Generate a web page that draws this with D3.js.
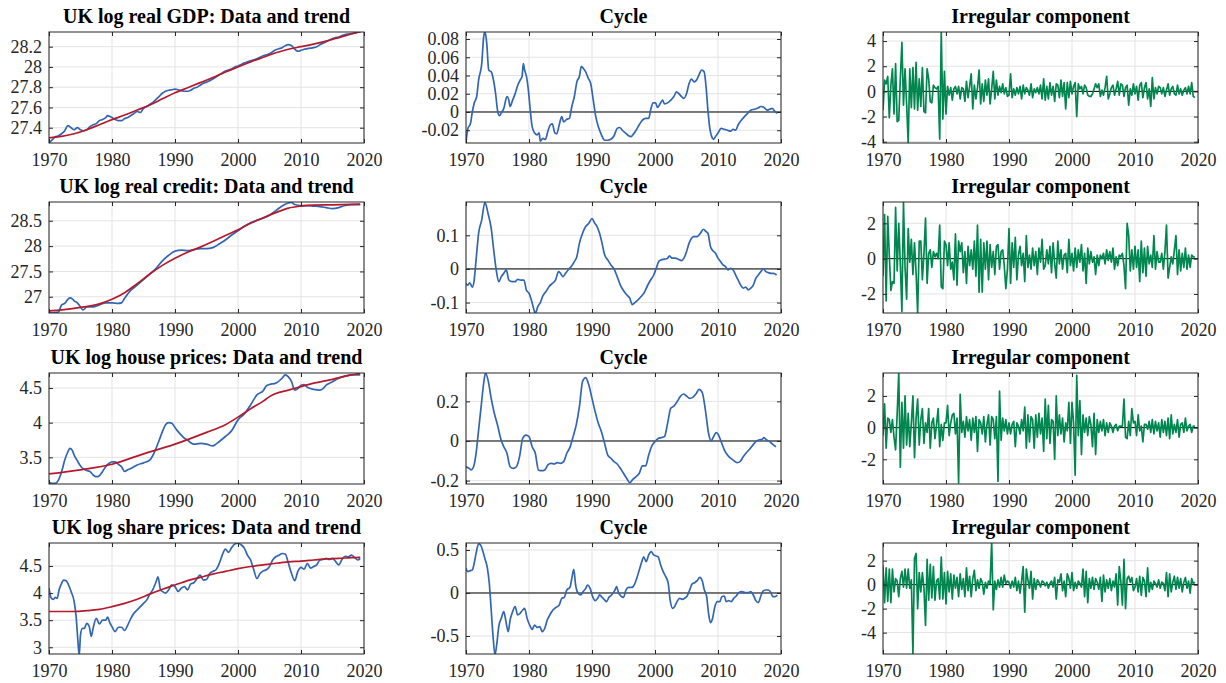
<!DOCTYPE html>
<html>
<head>
<meta charset="utf-8">
<script src="https://cdn.jsdelivr.net/npm/d3@7"></script>
<style>
  body { margin: 0; background: #fff; }
  text { font-family: "Liberation Serif", "Times New Roman", serif; fill: #262626; }
</style>
</head>
<body>
<div id="fig"></div>
<script>
// ---- data (year, value) ----

var gdpData = [[1970,27.25],[1970.5,27.28],[1971,27.31],[1971.5,27.32],[1972,27.34],[1972.5,27.37],[1973,27.42],[1973.5,27.40],[1974,27.38],[1974.5,27.40],[1975,27.38],[1975.5,27.37],[1976,27.38],[1976.5,27.41],[1977,27.43],[1977.5,27.44],[1978,27.47],[1978.5,27.48],[1979,27.50],[1979.3,27.52],[1979.7,27.51],[1980,27.50],[1980.5,27.48],[1981,27.47],[1981.5,27.47],[1982,27.49],[1982.5,27.50],[1983,27.52],[1983.5,27.54],[1984,27.56],[1984.5,27.55],[1985,27.59],[1985.5,27.61],[1986,27.63],[1986.5,27.65],[1987,27.68],[1987.5,27.71],[1988,27.74],[1988.5,27.76],[1989,27.77],[1989.5,27.775],[1990,27.78],[1990.5,27.775],[1991,27.765],[1991.5,27.76],[1992,27.76],[1992.5,27.77],[1993,27.79],[1993.5,27.80],[1994,27.82],[1994.5,27.84],[1995,27.85],[1995.5,27.865],[1996,27.88],[1996.5,27.90],[1997,27.92],[1997.5,27.94],[1998,27.96],[1998.5,27.97],[1999,27.98],[1999.5,28.0],[2000,28.01],[2000.5,28.025],[2001,28.04],[2001.5,28.05],[2002,28.06],[2002.5,28.07],[2003,28.08],[2003.5,28.095],[2004,28.11],[2004.5,28.12],[2005,28.13],[2005.5,28.15],[2006,28.17],[2006.5,28.18],[2007,28.19],[2007.5,28.21],[2008,28.22],[2008.4,28.215],[2008.8,28.19],[2009.2,28.165],[2009.6,28.155],[2010,28.165],[2010.5,28.175],[2011,28.18],[2011.5,28.185],[2012,28.19],[2012.5,28.2],[2013,28.22],[2013.5,28.235],[2014,28.25],[2014.5,28.265],[2015,28.28],[2015.5,28.29],[2016,28.295],[2016.5,28.31],[2017,28.32],[2017.5,28.325],[2018,28.33],[2018.5,28.335],[2019,28.345],[2019.5,28.35]];
var gdpTrend = [[1970,27.30],[1972,27.315],[1974,27.34],[1976,27.38],[1978,27.43],[1980,27.48],[1982,27.525],[1984,27.575],[1986,27.625],[1988,27.685],[1990,27.745],[1992,27.795],[1994,27.845],[1996,27.895],[1998,27.95],[2000,28.0],[2002,28.05],[2004,28.095],[2006,28.14],[2008,28.175],[2010,28.2],[2012,28.225],[2014,28.255],[2016,28.29],[2018,28.325],[2019.5,28.35]];
var gdpCycle = [[1970,-0.033],[1970.3,-0.018],[1970.7,-0.013],[1971,0.0],[1971.3,0.0096],[1971.7,0.017],[1972,0.035],[1972.5,0.053],[1972.8,0.082],[1973,0.088],[1973.3,0.075],[1973.6,0.046],[1974,0.044],[1974.3,0.037],[1974.7,0.020],[1975,0.002],[1975.3,-0.004],[1975.6,-0.001],[1976,0.004],[1976.5,0.017],[1976.8,0.013],[1977,0.006],[1977.4,0.013],[1977.8,0.020],[1978.2,0.029],[1978.6,0.035],[1978.9,0.039],[1979.1,0.053],[1979.3,0.046],[1979.6,0.039],[1979.9,0.024],[1980.2,0.002],[1980.5,-0.016],[1980.9,-0.023],[1981.3,-0.025],[1981.6,-0.023],[1981.8,-0.032],[1982.2,-0.029],[1982.6,-0.030],[1983,-0.021],[1983.4,-0.014],[1983.7,-0.013],[1984.1,-0.023],[1984.4,-0.024],[1984.8,-0.014],[1985.2,-0.005],[1985.5,-0.011],[1986,-0.008],[1986.4,-0.007],[1986.8,0.006],[1987.2,0.017],[1987.6,0.033],[1988,0.039],[1988.3,0.050],[1988.6,0.048],[1989,0.044],[1989.4,0.037],[1989.8,0.031],[1990.2,0.013],[1990.6,-0.005],[1991,-0.016],[1991.5,-0.025],[1992,-0.031],[1992.5,-0.031],[1993,-0.030],[1993.5,-0.026],[1994,-0.018],[1994.4,-0.017],[1994.8,-0.020],[1995.3,-0.023],[1995.8,-0.026],[1996.2,-0.027],[1996.6,-0.024],[1997,-0.020],[1997.5,-0.014],[1998,-0.009],[1998.5,-0.007],[1999,-0.007],[1999.3,0.002],[1999.7,0.010],[2000.1,0.010],[2000.4,0.005],[2000.8,0.009],[2001.2,0.013],[2001.5,0.009],[2002,0.010],[2002.5,0.013],[2003,0.017],[2003.4,0.022],[2003.8,0.020],[2004.2,0.017],[2004.6,0.015],[2005,0.020],[2005.4,0.031],[2005.8,0.036],[2006.2,0.033],[2006.6,0.035],[2007,0.041],[2007.4,0.046],[2007.8,0.044],[2008.1,0.028],[2008.4,0.002],[2008.7,-0.018],[2009,-0.027],[2009.3,-0.030],[2009.6,-0.027],[2010,-0.023],[2010.5,-0.018],[2011,-0.019],[2011.5,-0.020],[2012,-0.021],[2012.4,-0.019],[2012.8,-0.020],[2013.2,-0.014],[2013.7,-0.009],[2014.2,-0.005],[2014.7,-0.0015],[2015.2,0.002],[2015.8,0.003],[2016.3,0.004],[2016.8,0.006],[2017.3,0.005],[2017.8,0.002],[2018.2,0.003],[2018.6,0.004],[2019,0.001],[2019.4,-0.0015]];
// irregular components, quarterly from 1970Q1
var gdpIrreg = [-1.5,0.9,0.6,1.2,-2.1,0.5,1.8,-1.8,2.2,-2.4,-2.3,1.0,3.9,-1.1,1.8,-1.0,-4.1,1.8,-1.3,1.9,-1.4,2.3,-1.5,1.0,-1.2,1.9,-1.6,-1.7,1.8,1.0,-0.8,-0.9,0.5,0.3,0.2,0.4,-3.8,4.7,-2.2,1.6,
  -1.8,0.4,-0.3,0.3,-0.7,0.2,0.4,-0.2,0.4,-0.6,0.3,0.2,-0.8,0.8,-0.5,0.4,1.4,-1.4,0.5,-0.6,0.3,1.7,-1.0,0.6,-0.8,0.9,-0.3,1.0,-1.0,0.2,1.6,-0.6,0.9,-0.3,0.4,-0.1,0.6,-0.2,0.3,-0.4,
  -0.3,1.4,-0.5,0.2,-0.3,0.3,-0.2,0.4,-0.6,0.5,-0.2,0.3,0.1,-0.3,0.6,-0.5,0.2,-0.1,0.3,-0.2,0.5,-0.6,1.0,-0.7,0.4,-0.6,0.7,-0.3,0.4,-0.8,0.6,0.5,-0.5,0.9,-0.4,0.7,-1.4,0.7,-0.5,0.8,
  -0.2,0.4,0.7,-2.0,0.6,0.2,0.4,-0.2,0.5,0.3,-0.3,-0.4,-0.4,-0.2,0.2,0.6,0.3,0.6,-0.4,0.1,-0.3,0.3,1.2,-0.6,-0.2,0.3,0.5,-0.3,0.2,0.8,-0.3,0.6,0.5,-0.4,0.3,0.5,-1.1,0.2,-0.3,0.6,
  -0.2,0.4,-0.7,0.5,0.7,-0.5,0.3,0.7,-0.6,0.2,-1.2,1.1,-0.6,0.3,-0.2,0.4,0.3,-0.2,0.3,-0.4,0.1,0.6,-0.3,0.2,0.4,-0.2,-0.3,0.5,-0.2,0.2,-0.3,0.1,0.3,-0.2,0.4,-0.2,0.7,-0.4,-0.5];

var creditData = [[1970,26.70],[1970.5,26.68],[1971,26.69],[1971.5,26.70],[1972,26.84],[1972.5,26.87],[1973,26.95],[1973.3,26.98],[1973.7,26.96],[1974,26.92],[1974.5,26.88],[1975,26.80],[1975.4,26.74],[1976,26.80],[1977,26.80],[1978,26.84],[1979,26.88],[1980,26.88],[1981,26.87],[1981.5,26.88],[1982,26.97],[1983,27.13],[1984,27.23],[1985,27.34],[1986,27.45],[1987,27.56],[1988,27.71],[1989,27.82],[1990,27.90],[1991,27.92],[1992,27.91],[1993,27.93],[1994,27.95],[1995,27.95],[1996,27.97],[1997,28.04],[1998,28.12],[1999,28.22],[2000,28.30],[2001,28.39],[2002,28.46],[2003,28.51],[2004,28.55],[2005,28.61],[2006,28.70],[2007,28.79],[2008,28.85],[2008.5,28.86],[2009,28.82],[2010,28.80],[2011,28.80],[2012,28.79],[2013,28.78],[2014,28.76],[2015,28.74],[2016,28.76],[2017,28.80],[2018,28.82],[2019.4,28.82]];
var creditTrend = [[1970,26.72],[1972,26.74],[1975,26.79],[1978,26.86],[1980,26.95],[1982,27.08],[1984,27.26],[1986,27.45],[1988,27.62],[1990,27.76],[1992,27.88],[1994,27.98],[1996,28.09],[1998,28.21],[2000,28.32],[2002,28.45],[2004,28.56],[2006,28.66],[2008,28.75],[2010,28.79],[2012,28.81],[2015,28.815],[2019.4,28.83]];
var creditCycle = [[1970,-0.043],[1970.3,-0.048],[1970.6,-0.041],[1971,-0.054],[1971.3,-0.033],[1971.6,0.027],[1972,0.106],[1972.5,0.146],[1973,0.198],[1973.5,0.165],[1974,0.121],[1974.4,0.056],[1974.8,-0.003],[1975.2,-0.038],[1975.6,-0.023],[1976,-0.013],[1976.4,-0.003],[1976.8,-0.033],[1977.3,-0.038],[1977.8,-0.038],[1978.2,-0.031],[1978.7,-0.033],[1979.2,-0.033],[1979.6,-0.064],[1980,-0.072],[1980.4,-0.094],[1980.8,-0.122],[1981,-0.132],[1981.4,-0.112],[1981.8,-0.100],[1982.2,-0.080],[1982.7,-0.067],[1983.2,-0.052],[1983.7,-0.043],[1984.2,-0.033],[1984.7,-0.008],[1985,-0.013],[1985.4,-0.023],[1985.8,-0.013],[1986.2,-0.003],[1986.7,0.007],[1987.2,0.022],[1987.6,0.037],[1988,0.076],[1988.5,0.106],[1989,0.126],[1989.5,0.136],[1990,0.150],[1990.4,0.137],[1990.8,0.126],[1991.2,0.106],[1991.6,0.076],[1992,0.042],[1992.5,0.027],[1993,0.012],[1993.5,0.0],[1994,-0.023],[1994.5,-0.048],[1995,-0.064],[1995.5,-0.077],[1996,-0.087],[1996.4,-0.106],[1996.8,-0.100],[1997.3,-0.092],[1997.8,-0.082],[1998.3,-0.070],[1998.8,-0.050],[1999.3,-0.033],[1999.8,-0.018],[2000.2,0.002],[2000.6,0.022],[2001,0.027],[2001.5,0.029],[2002,0.032],[2002.3,0.039],[2002.7,0.032],[2003.2,0.032],[2003.7,0.029],[2004.2,0.025],[2004.6,0.032],[2005,0.051],[2005.4,0.076],[2005.8,0.091],[2006.2,0.096],[2006.7,0.096],[2007.2,0.106],[2007.7,0.118],[2008.1,0.111],[2008.4,0.106],[2008.8,0.067],[2009.2,0.054],[2009.6,0.047],[2010,0.032],[2010.4,0.022],[2010.8,0.012],[2011.2,0.007],[2011.6,-0.003],[2012,0.002],[2012.4,-0.003],[2012.8,-0.018],[2013.2,-0.033],[2013.6,-0.048],[2014,-0.057],[2014.4,-0.054],[2014.8,-0.062],[2015.2,-0.057],[2015.6,-0.048],[2016,-0.028],[2016.4,-0.018],[2016.8,-0.008],[2017.2,0.0],[2017.6,-0.008],[2018,-0.011],[2018.4,-0.013],[2018.8,-0.013],[2019.3,-0.018]];
var creditIrreg = [-1.0,2.5,-2.4,2.4,0.2,-1.8,-1.3,-1.4,2.9,-0.7,2.0,-0.3,-3.0,3.2,-0.5,-2.3,1.7,-0.2,1.1,-0.9,0.9,-0.8,-3.1,1.0,1.0,-1.2,0.3,2.3,-1.4,0.3,0.5,-0.5,0.4,0.1,0.3,0.0,1.9,-1.6,-1.7,1.0,
  0.8,-0.4,0.9,-0.6,-0.2,-1.2,1.4,-1.5,1.0,0.4,0.9,-0.8,0.4,-1.4,0.7,-0.4,0.5,-0.6,1.0,-1.0,1.9,-1.9,1.1,-1.9,0.9,-0.6,1.0,-1.2,0.8,-0.5,0.4,-0.9,0.7,0.8,-0.6,0.4,0.5,-0.4,-1.7,-0.6,
  1.7,-1.4,0.9,-0.5,1.2,-1.2,0.2,0.7,-0.4,0.3,-1.3,1.3,-0.5,0.2,-0.6,0.6,-0.4,0.4,-0.9,0.6,-0.2,1.1,-0.6,-0.4,0.5,-0.3,0.7,-0.8,0.9,-0.3,-1.1,1.0,-0.3,0.5,-0.6,0.2,0.3,-0.8,1.1,-0.4,
  0.3,-0.7,0.6,-0.5,0.5,-0.2,0.8,-0.7,0.3,-1.4,0.6,-0.3,0.4,-0.2,0.1,-0.9,0.2,-0.4,0.2,0.0,0.3,-0.3,0.5,-0.1,0.4,-0.2,0.6,-0.6,0.1,-0.4,0.2,0.1,0.3,-0.4,-1.7,2.0,1.3,-0.7,0.5,-0.6,
  0.7,-0.5,0.5,-1.3,1.0,-0.8,0.6,-1.0,0.7,-0.3,0.2,-0.5,1.3,-0.6,0.4,-0.2,-0.2,0.3,-0.6,0.4,1.9,-1.1,-0.5,0.1,-0.3,0.5,1.3,-0.9,0.5,-0.7,0.3,-0.5,0.6,-0.6,0.2,-0.5,0.2,0.1,0.1];

var houseData = [[1970,3.135],[1970.5,3.125],[1971,3.125],[1971.5,3.17],[1972,3.29],[1972.5,3.46],[1973,3.58],[1973.3,3.63],[1973.7,3.60],[1974,3.53],[1974.5,3.45],[1975,3.375],[1975.5,3.33],[1976,3.31],[1976.5,3.295],[1977,3.245],[1977.5,3.22],[1978,3.235],[1978.5,3.295],[1979,3.365],[1979.5,3.41],[1980,3.435],[1980.5,3.435],[1981,3.40],[1981.5,3.365],[1982,3.295],[1982.5,3.32],[1983,3.34],[1984,3.39],[1985,3.42],[1986,3.46],[1986.5,3.53],[1987,3.63],[1987.5,3.75],[1988,3.87],[1988.5,3.97],[1989,4.0],[1989.5,3.99],[1990,3.93],[1990.5,3.87],[1991,3.82],[1991.5,3.775],[1992,3.75],[1992.5,3.71],[1993,3.69],[1994,3.70],[1995,3.69],[1996,3.665],[1996.5,3.69],[1997,3.725],[1998,3.80],[1999,3.885],[2000,4.04],[2001,4.125],[2002,4.255],[2003,4.40],[2004,4.46],[2004.5,4.53],[2005,4.55],[2006,4.57],[2007,4.64],[2007.5,4.69],[2008,4.66],[2008.5,4.59],[2009,4.47],[2009.5,4.49],[2010,4.54],[2010.5,4.55],[2011,4.51],[2012,4.48],[2013,4.47],[2013.5,4.49],[2014,4.54],[2015,4.59],[2016,4.64],[2017,4.67],[2018,4.69],[2019.4,4.69]];
var houseTrend = [[1970,3.26],[1975,3.32],[1980,3.40],[1985,3.55],[1990,3.69],[1995,3.86],[1998,3.97],[2000,4.08],[2002,4.20],[2004,4.31],[2005,4.375],[2006,4.42],[2008,4.47],[2010,4.52],[2012,4.57],[2015,4.625],[2017,4.67],[2019.4,4.71]];
var houseCycle = [[1970,-0.13],[1970.5,-0.138],[1970.8,-0.146],[1971.2,-0.13],[1971.6,-0.062],[1972,0.055],[1972.4,0.173],[1972.8,0.29],[1973.1,0.343],[1973.5,0.307],[1974,0.215],[1974.5,0.139],[1975,0.081],[1975.5,0.013],[1976,-0.029],[1976.5,-0.062],[1977,-0.13],[1977.5,-0.138],[1978,-0.13],[1978.5,-0.079],[1979,0.013],[1979.5,0.03],[1980,0.022],[1980.5,-0.029],[1981,-0.062],[1981.5,-0.146],[1982,-0.15],[1982.5,-0.146],[1983,-0.121],[1983.5,-0.113],[1984,-0.116],[1984.5,-0.109],[1985,-0.113],[1985.5,-0.104],[1986,-0.062],[1986.5,-0.032],[1987,0.022],[1987.5,0.081],[1988,0.173],[1988.5,0.30],[1989,0.32],[1989.5,0.282],[1990,0.215],[1990.5,0.148],[1991,0.089],[1991.5,0.047],[1992,-0.012],[1992.5,-0.071],[1993,-0.087],[1993.5,-0.104],[1994,-0.116],[1994.5,-0.138],[1995,-0.163],[1995.5,-0.188],[1996,-0.21],[1996.5,-0.193],[1997,-0.18],[1997.5,-0.163],[1998,-0.126],[1998.5,-0.126],[1999,-0.071],[1999.5,-0.025],[2000,-0.003],[2000.5,0.013],[2001,0.017],[2001.5,0.022],[2002,0.089],[2002.5,0.165],[2003,0.176],[2003.5,0.198],[2004,0.224],[2004.5,0.237],[2005,0.227],[2005.5,0.215],[2006,0.22],[2006.5,0.237],[2007,0.26],[2007.5,0.244],[2008,0.156],[2008.5,0.039],[2008.9,0.0],[2009.3,0.022],[2009.7,0.042],[2010,0.035],[2010.5,-0.003],[2011,-0.045],[2011.5,-0.071],[2012,-0.087],[2012.5,-0.099],[2013,-0.109],[2013.5,-0.104],[2014,-0.079],[2014.5,-0.059],[2015,-0.042],[2015.5,-0.022],[2016,-0.003],[2016.5,0.005],[2017,0.008],[2017.3,0.017],[2017.7,0.005],[2018.2,-0.003],[2018.6,-0.015],[2019.2,-0.029]];
var houseIrreg = [-0.5,1.5,-1.3,0.6,0.5,-0.3,0.5,-0.6,-1.4,0.9,3.45,-2.5,1.6,-1.3,2.0,-1.1,0.9,-1.2,0.3,2.0,-1.9,0.6,1.8,-1.1,0.5,1.2,-1.0,0.3,-0.3,1.2,-1.3,0.3,0.6,-0.7,0.2,1.2,-1.2,0.2,-0.8,0.3,
  0.3,1.4,-0.5,0.3,0.8,0.9,-0.4,0.6,-3.5,2.1,-0.3,0.4,-0.6,0.7,-0.2,0.5,-0.8,0.6,-0.3,0.7,-1.5,0.5,0.3,-0.4,0.7,-0.9,0.2,0.8,-1.1,0.7,0.5,-0.7,0.7,-3.4,2.3,-0.8,0.6,-0.2,0.5,-0.4,
  0.3,-0.4,0.2,0.4,-1.2,0.3,0.1,-0.4,0.5,-0.2,1.3,-1.3,0.8,-0.9,0.7,0.5,-1.3,0.8,-0.6,0.9,-0.4,0.6,-1.5,1.8,-0.7,1.4,-1.0,0.5,0.4,-2.0,2.0,-0.5,0.8,-0.4,0.6,-0.9,0.3,-0.2,1.6,-1.0,
  1.6,0.3,-3.0,3.3,-0.5,1.7,-1.7,0.8,-0.3,0.6,-0.5,0.7,0.2,-1.2,0.9,-1.7,0.5,-0.3,0.4,-0.2,0.5,-0.5,0.3,-0.3,0.3,0.1,-0.3,0.1,0.2,-0.2,0.1,0.1,0.1,1.8,-0.6,-0.7,0.4,-0.5,1.2,0.3,
  0.4,-0.5,0.8,-0.2,0.1,-0.9,0.2,0.2,-0.1,0.4,-0.3,0.5,-0.4,0.4,-0.2,0.3,-0.6,0.5,-0.3,0.4,-0.5,0.6,-0.7,0.8,-0.4,0.2,-0.3,0.5,-0.6,0.2,0.3,-0.3,0.6,-0.2,0.1,0.2,-0.3,0.1,0.1];

var shareData = [[1970,4.09],[1970.3,3.92],[1970.7,3.885],[1971,3.92],[1971.3,3.90],[1971.6,4.06],[1972,4.18],[1972.3,4.24],[1972.7,4.23],[1973,4.18],[1973.5,4.03],[1974,3.84],[1974.3,3.57],[1974.6,3.10],[1974.8,2.85],[1975,3.23],[1975.3,3.35],[1975.6,3.35],[1976,3.44],[1976.4,3.38],[1976.7,3.20],[1977,3.35],[1977.5,3.535],[1978,3.43],[1978.5,3.50],[1979,3.50],[1979.3,3.555],[1979.7,3.44],[1980,3.38],[1980.5,3.29],[1981,3.37],[1981.5,3.37],[1982,3.31],[1982.5,3.41],[1983,3.535],[1983.5,3.63],[1984,3.69],[1984.5,3.75],[1985,3.81],[1985.5,3.87],[1986,3.98],[1986.5,4.07],[1987,4.21],[1987.3,4.30],[1987.7,4.06],[1988,4.03],[1988.5,4.0],[1989,4.06],[1989.5,4.15],[1990,4.12],[1990.5,4.03],[1991,4.09],[1991.5,4.12],[1992,4.06],[1992.5,4.17],[1993,4.19],[1993.5,4.27],[1994,4.33],[1994.5,4.24],[1995,4.25],[1995.5,4.36],[1996,4.40],[1996.5,4.43],[1997,4.54],[1997.5,4.70],[1998,4.81],[1998.5,4.75],[1999,4.84],[1999.5,4.905],[2000,4.92],[2000.5,4.89],[2001,4.83],[2001.5,4.70],[2002,4.61],[2002.5,4.43],[2003,4.27],[2003.5,4.36],[2004,4.41],[2004.5,4.43],[2005,4.49],[2005.5,4.61],[2006,4.67],[2006.5,4.70],[2007,4.73],[2007.5,4.72],[2008,4.55],[2008.5,4.36],[2009,4.23],[2009.5,4.40],[2010,4.475],[2010.5,4.44],[2011,4.55],[2011.5,4.46],[2012,4.49],[2012.5,4.52],[2013,4.61],[2013.5,4.62],[2014,4.64],[2014.5,4.62],[2015,4.64],[2015.5,4.58],[2016,4.52],[2016.5,4.62],[2017,4.68],[2017.5,4.67],[2018,4.70],[2018.5,4.66],[2019,4.61],[2019.4,4.64]];
var shareTrend = [[1970,3.66],[1974,3.66],[1976,3.675],[1978,3.70],[1980,3.75],[1982,3.81],[1984,3.885],[1986,3.98],[1988,4.07],[1990,4.15],[1992,4.23],[1994,4.29],[1996,4.35],[1998,4.40],[2000,4.45],[2002,4.49],[2004,4.52],[2006,4.55],[2008,4.575],[2010,4.59],[2012,4.61],[2014,4.63],[2016,4.64],[2018,4.655],[2019.4,4.66]];
var shareCycle = [[1970,0.287],[1970.3,0.248],[1970.7,0.26],[1971,0.267],[1971.3,0.345],[1971.6,0.46],[1972,0.57],[1972.3,0.56],[1972.7,0.48],[1973,0.40],[1973.4,0.287],[1973.7,0.11],[1974,-0.198],[1974.3,-0.508],[1974.6,-0.72],[1974.9,-0.585],[1975.2,-0.39],[1975.6,-0.295],[1976,-0.217],[1976.3,-0.314],[1976.7,-0.45],[1977,-0.314],[1977.4,-0.217],[1977.8,-0.159],[1978.2,-0.256],[1978.6,-0.236],[1979,-0.198],[1979.3,-0.178],[1979.7,-0.295],[1980.1,-0.372],[1980.5,-0.422],[1980.9,-0.372],[1981.3,-0.40],[1981.7,-0.39],[1982.1,-0.45],[1982.5,-0.41],[1982.9,-0.314],[1983.3,-0.256],[1983.8,-0.198],[1984.3,-0.167],[1984.8,-0.14],[1985.2,-0.062],[1985.6,-0.05],[1986,0.035],[1986.5,0.066],[1986.8,0.17],[1987.1,0.275],[1987.4,0.093],[1987.8,-0.004],[1988.2,-0.023],[1988.6,0.016],[1989,0.054],[1989.3,0.093],[1989.7,0.054],[1990.1,-0.043],[1990.5,-0.089],[1990.9,-0.062],[1991.2,-0.023],[1991.6,-0.05],[1992,-0.081],[1992.3,-0.10],[1992.7,-0.05],[1993.1,-0.023],[1993.6,0.027],[1993.9,0.074],[1994.2,0.004],[1994.6,-0.035],[1995,-0.05],[1995.4,0.035],[1995.8,0.066],[1996.3,0.066],[1996.7,0.093],[1997.1,0.17],[1997.5,0.267],[1997.9,0.364],[1998.2,0.42],[1998.6,0.364],[1999,0.442],[1999.4,0.48],[1999.8,0.442],[2000.2,0.43],[2000.5,0.42],[2000.9,0.325],[2001.3,0.248],[2001.7,0.19],[2002.1,0.112],[2002.4,-0.081],[2002.8,-0.178],[2003.1,-0.159],[2003.5,-0.10],[2003.9,-0.062],[2004.3,-0.074],[2004.7,-0.062],[2005.1,-0.035],[2005.5,0.035],[2005.9,0.105],[2006.3,0.12],[2006.7,0.143],[2007.1,0.182],[2007.5,0.143],[2007.8,0.043],[2008.2,-0.043],[2008.5,-0.236],[2008.8,-0.345],[2009.1,-0.306],[2009.5,-0.159],[2009.9,-0.10],[2010.3,-0.10],[2010.6,-0.043],[2011,-0.035],[2011.3,-0.10],[2011.7,-0.089],[2012.1,-0.10],[2012.5,-0.062],[2012.9,-0.035],[2013.3,0.004],[2013.8,0.016],[2014.3,0.004],[2014.8,0.004],[2015.2,0.016],[2015.6,-0.023],[2016,-0.089],[2016.4,-0.112],[2016.8,-0.035],[2017.2,0.027],[2017.6,0.035],[2018,0.035],[2018.4,0.004],[2018.7,-0.043],[2019.1,-0.043],[2019.4,-0.023]];
var shareIrreg = [1.6,-1.5,1.4,-1.4,1.3,-1.5,1.3,-0.6,0.5,0.3,-1.0,0.5,1.1,-0.2,1.3,-0.3,1.3,-0.3,0.4,-5.8,2.2,2.6,-2.0,1.0,-0.6,1.0,-0.3,-3.4,2.1,-1.3,1.7,-1.1,1.5,-1.3,0.3,0.5,-1.2,2.3,-1.2,1.0,
  -1.6,1.1,-0.6,0.9,-1.2,0.8,-0.3,0.6,-1.0,0.9,-0.4,0.5,-1.0,1.4,-0.5,0.7,-1.0,0.5,1.2,-0.5,0.4,-0.3,0.5,0.2,-0.8,0.2,-0.3,0.3,0.1,3.6,-2.1,0.3,-0.4,0.4,-0.2,0.6,-0.2,0.8,0.1,0.3,
  0.2,-0.3,0.3,-0.2,0.6,-0.5,0.3,-0.7,0.3,1.5,-2.3,1.3,0.4,-0.3,1.1,-1.2,0.5,-0.4,0.4,0.2,-0.2,0.3,0.2,-0.1,0.2,-0.3,0.1,0.3,-0.2,0.6,-1.2,0.4,0.2,0.9,-0.5,0.3,-1.0,0.9,0.5,-0.3,
  1.0,-0.5,0.2,-0.3,0.3,0.1,-0.2,1.3,-1.0,1.1,-1.5,0.5,-0.3,0.6,-0.4,0.5,0.2,-0.4,0.6,-1.4,0.8,-0.6,0.4,-0.3,0.5,-0.5,0.3,-0.2,0.9,-1.7,1.5,0.3,-1.7,2.1,-2.0,0.5,0.7,0.2,0.6,-0.5,
  -0.2,0.5,-0.6,0.7,-0.9,0.6,0.3,-1.0,1.4,-0.6,0.2,-0.4,0.3,0.1,-0.2,0.4,-0.3,0.2,0.1,-0.5,1.0,-1.0,0.9,-0.6,0.2,0.7,-0.4,0.6,-0.3,0.5,-0.6,0.2,0.6,-0.3,0.3,-0.7,0.5,0.1,0.2];

var xTicks = [1970, 1980, 1990, 2000, 2010, 2020];

// ---- layout ----
var svgWidth = 1226, svgHeight = 683;
var colLeft = [49, 466, 883];
var rowTop = [32, 202, 373, 543];
var panelW = 315, panelH = 111;

var blue = "#3366b2", red = "#b51a2c", green = "#00864f";
var serif = "'Liberation Serif', 'Times New Roman', serif";

function quarterly(arr) {
    return arr.map(function (v, i) { return [1970 + i / 4, v]; });
}

var panels = [
    { title: "UK log real GDP: Data and trend", y: [27.249, 28.345], ticks: [27.4, 27.6, 27.8, 28, 28.2], lines: [[gdpData, blue], [gdpTrend, red]] },
    { title: "Cycle", y: [-0.034, 0.0877], ticks: [-0.02, 0, 0.02, 0.04, 0.06, 0.08], lines: [[gdpCycle, blue]], zero: true },
    { title: "Irregular component", y: [-4.1, 4.72], ticks: [-4, -2, 0, 2, 4], lines: [[quarterly(gdpIrreg), green]], zero: true, jag: true },
    { title: "UK log real credit: Data and trend", y: [26.68, 28.87], ticks: [27, 27.5, 28, 28.5], lines: [[creditData, blue], [creditTrend, red]] },
    { title: "Cycle", y: [-0.131, 0.199], ticks: [-0.1, 0, 0.1], lines: [[creditCycle, blue]], zero: true },
    { title: "Irregular component", y: [-3.08, 3.21], ticks: [-2, 0, 2], lines: [[quarterly(creditIrreg), green]], zero: true, jag: true },
    { title: "UK log house prices: Data and trend", y: [3.115, 4.716], ticks: [3.5, 4, 4.5], lines: [[houseData, blue], [houseTrend, red]] },
    { title: "Cycle", y: [-0.217, 0.343], ticks: [-0.2, 0, 0.2], lines: [[houseCycle, blue]], zero: true },
    { title: "Irregular component", y: [-3.56, 3.45], ticks: [-2, 0, 2], lines: [[quarterly(houseIrreg), green]], zero: true, jag: true },
    { title: "UK log share prices: Data and trend", y: [2.876, 4.924], ticks: [3, 3.5, 4, 4.5], lines: [[shareData, blue], [shareTrend, red]] },
    { title: "Cycle", y: [-0.709, 0.581], ticks: [-0.5, 0, 0.5], lines: [[shareCycle, blue]], zero: true },
    { title: "Irregular component", y: [-5.78, 3.47], ticks: [-4, -2, 0, 2], lines: [[quarterly(shareIrreg), green]], zero: true, jag: true }
];

var svg = d3.select("#fig")
    .append("svg")
    .attr("width", svgWidth)
    .attr("height", svgHeight);

var fmt = function (d) { return String(+d.toFixed(6)); };

panels.forEach(function (p, i) {
    var left = colLeft[i % 3], top = rowTop[Math.floor(i / 3)];
    var g = svg.append("g").attr("transform", `translate(${left},${top})`);

    var x = d3.scaleLinear().domain([1970, 2020]).range([0, panelW]);
    var y = d3.scaleLinear().domain(p.y).range([panelH, 0]);

    // grid
    g.append("g").selectAll("line").data(xTicks).enter().append("line")
        .attr("x1", d => x(d)).attr("x2", d => x(d))
        .attr("y1", 0).attr("y2", panelH)
        .attr("stroke", "#e3e3e3");
    g.append("g").selectAll("line").data(p.ticks).enter().append("line")
        .attr("x1", 0).attr("x2", panelW)
        .attr("y1", d => y(d)).attr("y2", d => y(d))
        .attr("stroke", "#e3e3e3");

    if (p.zero) {
        g.append("line")
            .attr("x1", 0).attr("x2", panelW)
            .attr("y1", y(0)).attr("y2", y(0))
            .attr("stroke", "#000").attr("stroke-width", 1);
    }

    // clip so lines stay inside the box
    var clipId = "clip" + i;
    g.append("clipPath").attr("id", clipId)
        .append("rect").attr("width", panelW).attr("height", panelH);

    p.lines.forEach(function (l) {
        var line = d3.line()
            .x(d => x(d[0]))
            .y(d => y(d[1]))
            .curve(p.jag ? d3.curveLinear : d3.curveMonotoneX);
        g.append("path")
            .datum(l[0])
            .attr("clip-path", `url(#${clipId})`)
            .attr("d", line)
            .attr("fill", "none")
            .attr("stroke", l[1])
            .attr("stroke-width", 1.7)
            .attr("stroke-linejoin", "round");
    });

    // axes, ticks pointing inward on all four sides
    g.append("g")
        .attr("transform", `translate(0,${panelH})`)
        .call(d3.axisBottom(x).tickValues(xTicks).tickSize(-4).tickPadding(10).tickFormat(d3.format("d")));
    g.append("g")
        .call(d3.axisTop(x).tickValues(xTicks).tickSize(-4).tickFormat(""));
    g.append("g")
        .call(d3.axisLeft(y).tickValues(p.ticks).tickSize(-4).tickPadding(7).tickFormat(fmt));
    g.append("g")
        .attr("transform", `translate(${panelW},0)`)
        .call(d3.axisRight(y).tickValues(p.ticks).tickSize(-4).tickFormat(""));

    g.selectAll(".domain").remove();
    g.selectAll(".tick line").attr("stroke", "#262626");
    g.selectAll(".tick text")
        .style("font-family", serif)
        .style("font-size", "18px")
        .style("fill", "#262626");

    g.append("rect")
        .attr("width", panelW).attr("height", panelH)
        .attr("fill", "none")
        .attr("stroke", "#262626")
        .attr("stroke-width", 1);

    g.append("text")
        .attr("x", panelW / 2)
        .attr("y", -9)
        .attr("text-anchor", "middle")
        .style("font-family", serif)
        .style("font-size", "20px")
        .style("font-weight", "bold")
        .style("fill", "#000")
        .text(p.title);
});
</script>
</body>
</html>
